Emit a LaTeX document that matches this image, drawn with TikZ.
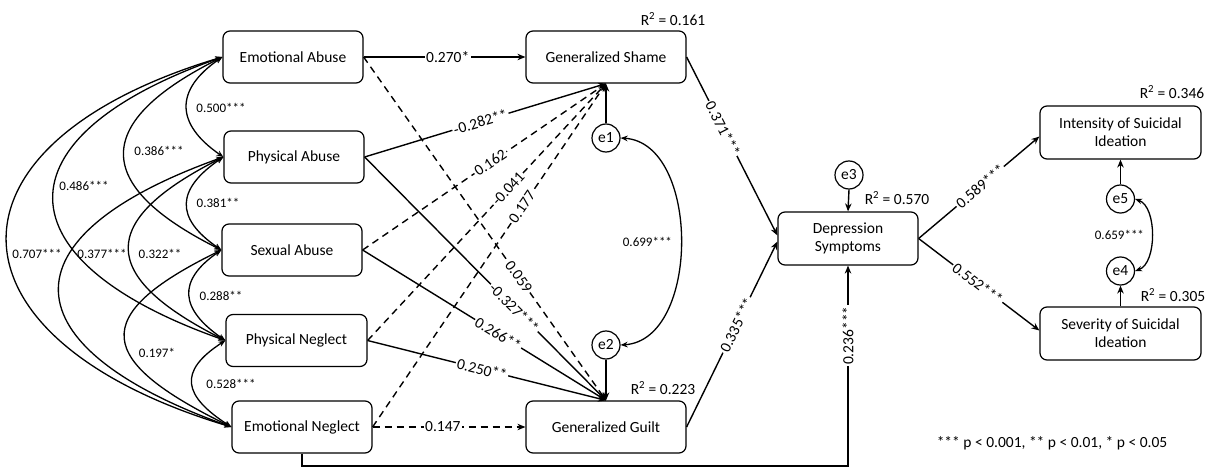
\documentclass[tikz,border=0pt]{standalone}
\usepackage{fontspec}
\setmainfont{Carlito}
\usetikzlibrary{arrows.meta,calc}
\begin{document}
\begin{tikzpicture}[x=1pt,y=-1pt,
  box/.style={draw, line width=1.2pt, rounded corners=7pt, fill=white, minimum width=140pt, minimum height=52pt, inner sep=0pt, align=center, font=\fontsize{15.5}{18}\selectfont},
  err/.style={draw, circle, line width=1.2pt, fill=white, minimum size=28pt, inner sep=0pt, font=\fontsize{15.5}{18}\selectfont},
  arr/.style={line width=1.4pt, -{Stealth[length=8pt,width=6.5pt]}},
  dsh/.style={dash pattern=on 7pt off 5pt},
  cov/.style={line width=1.3pt, {Stealth[length=7pt,width=5.5pt]}-{Stealth[length=7pt,width=5.5pt]}},
  lab/.style={fill=white, inner sep=1.5pt, font=\fontsize{15.5}{18}\selectfont, sloped},
  clab/.style={inner sep=0pt, font=\fontsize{13}{15}\selectfont},
  rtxt/.style={inner sep=0pt, font=\fontsize{15.5}{18}\selectfont}
]
\useasboundingbox (0,0) rectangle (1211,468);

% boxes
\node[box] (ea) at (293,57) {Emotional Abuse};
\node[box] (pa) at (294,157) {Physical Abuse};
\node[box] (sa) at (292,250) {Sexual Abuse};
\node[box, minimum width=141pt] (pn) at (296.5,340.5) {Physical Neglect};
\node[box] (en) at (302,427) {Emotional Neglect};
\node[box, minimum width=160pt] (gs) at (606,57) {Generalized Shame};
\node[box, minimum width=160pt] (gg) at (606,427) {Generalized Guilt};
\node[box, minimum height=53pt] (ds) at (848,238.5) {Depression\\Symptoms};
\node[box, minimum width=161pt, minimum height=53pt] (isi) at (1120.5,132.5) {Intensity of Suicidal\\Ideation};
\node[box, minimum width=161pt, minimum height=53pt] (ssi) at (1120.5,333.5) {Severity of Suicidal\\Ideation};

% error terms
\node[err] (e1) at (606,138) {e1};
\node[err] (e2) at (606,345) {e2};
\node[err] (e3) at (849,175) {e3};
\node[err] (e5) at (1120.5,199) {e5};
\node[err] (e4) at (1120.5,271) {e4};

% covariances among exogenous variables
\draw[cov] (ea.west) .. controls +(-48,33) and +(-48,-33) .. (pa.west);
\draw[cov] (pa.west) .. controls +(-47,32) and +(-47,-32) .. (sa.west);
\draw[cov] (sa.west) .. controls +(-45,31) and +(-45,-31) .. (pn.west);
\draw[cov] (pn.west) .. controls +(-48,31) and +(-48,-31) .. (en.west);
\draw[cov] (ea.west) .. controls +(-130,65) and +(-130,-65) .. (sa.west);
\draw[cov] (pa.west) .. controls +(-127,64) and +(-127,-64) .. (pn.west);
\draw[cov] (sa.west) .. controls +(-135,66) and +(-135,-66) .. (en.west);
\draw[cov] (ea.west) .. controls +(-227,80) and +(-227,-80) .. (pn.west);
\draw[cov] (pa.west) .. controls +(-224,80) and +(-224,-80) .. (en.west);
\draw[cov] (ea.west) .. controls +(-293,88) and +(-293,-88) .. (en.west);

\node[clab] (c1) at (221,108) {0.500***};
\node[clab] (c2) at (218,203) {0.381**};
\node[clab] (c3) at (221,296) {0.288**};
\node[clab] (c4) at (231,384) {0.528***};
\node[clab] (c5) at (159,151) {0.386***};
\node[clab] (c6) at (160,254) {0.322**};
\node[clab] (c7) at (157,353) {0.197*};
\node[clab] (c8) at (84,186) {0.486***};
\node[clab] (c9) at (102,254) {0.377***};
\node[clab] (c10) at (37,254) {0.707***};

% paths to shame and guilt
\draw[arr] (ea.east) -- node[lab,pos=0.52] {0.270*} (gs.west);
\draw[arr,dsh] (ea.east) -- node[lab,pos=0.64] {0.059} (gg.north);
\draw[arr] (pa.east) -- node[lab,pos=0.48] {-0.282**} (gs.south);
\draw[arr] (pa.east) -- node[lab,pos=0.62] {-0.327***} (gg.north);
\draw[arr,dsh] (sa.east) -- node[lab,pos=0.525] {0.162} (gs.south);
\draw[arr] (sa.east) -- node[lab,pos=0.557] {0.266**} (gg.north);
\draw[arr,dsh] (pn.east) -- node[lab,pos=0.59] {-0.041} (gs.south);
\draw[arr] (pn.east) -- node[lab,pos=0.48] {0.250**} (gg.north);
\draw[arr,dsh] (en.east) -- node[lab,pos=0.64] {0.177} (gs.south);
\draw[arr,dsh] (en.east) -- node[lab,pos=0.46] {0.147} (gg.west);

% error arrows
\draw[arr] (e1.north) -- (gs.south);
\draw[arr] (e2.south) -- (gg.north);
\draw[cov] (e1.east) .. controls +(80,5) and +(80,-5) .. node[clab,pos=0.5,anchor=east,xshift=-8pt] {0.699***} (e2.east);

% to depression
\draw[arr] (gs.east) -- node[lab,pos=0.4] {0.371***} ($(ds.west)+(0,-3)$);
\draw[arr] (gg.east) -- node[lab,pos=0.55] {0.335***} ($(ds.west)+(0,3)$);
\coordinate (cb) at (0,466);
\draw[arr] (en.south) -- (en.south |- cb) -- (ds.south |- cb) -- node[lab,pos=0.65] {0.236***} (ds.south);
\draw[arr] (e3.south) -- (ds.north);

% to suicidal ideation
\draw[arr] (ds.east) -- node[lab,pos=0.51] {0.589***} ($(isi.west)+(0,4)$);
\draw[arr] (ds.east) -- node[lab,pos=0.49] {0.552***} ($(ssi.west)+(0,-3)$);
\draw[arr] (e5.north) -- (isi.south);
\draw[arr] (ssi.north) -- (e4.south);
\draw[cov] (e5.east) .. controls +(22,8) and +(22,-8) .. node[clab,pos=0.5,anchor=east,xshift=-7pt] {0.659***} (e4.east);

% R squared
\node[rtxt] (r1) at (673,19) {R\textsuperscript{2} = 0.161};
\node[rtxt] (r2) at (663,388) {R\textsuperscript{2} = 0.223};
\node[rtxt] (r3) at (897,198) {R\textsuperscript{2} = 0.570};
\node[rtxt] (r4) at (1172,92) {R\textsuperscript{2} = 0.346};
\node[rtxt] (r5) at (1173,295) {R\textsuperscript{2} = 0.305};

\node[rtxt] (leg) at (1052,443) {*** p < 0.001, ** p < 0.01, * p < 0.05};
\end{tikzpicture}
\end{document}
